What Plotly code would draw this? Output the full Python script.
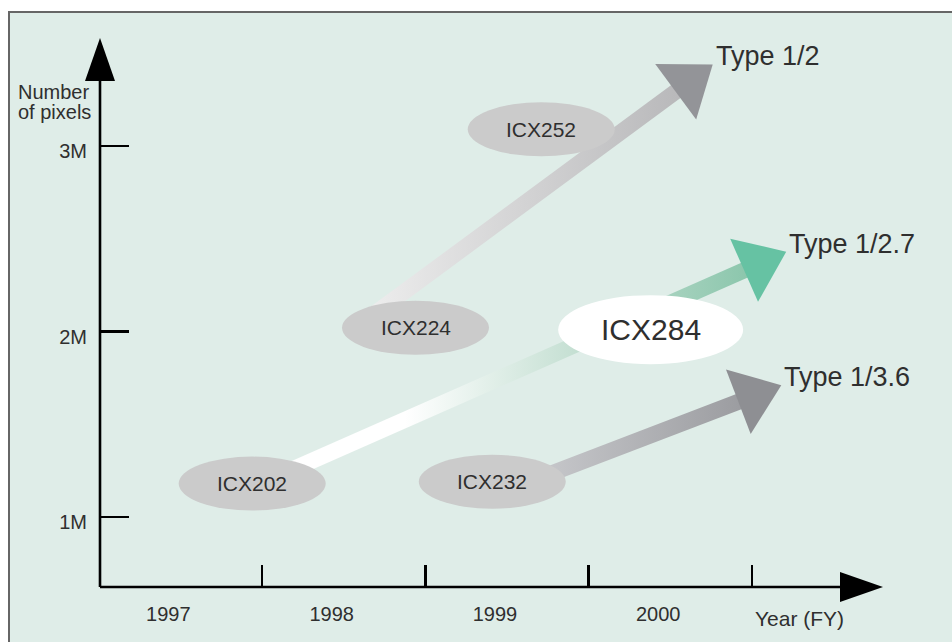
import numpy as np
import plotly.graph_objects as go

PAGE = 0                      # body margin removed by post_script below
W, H = 952, 642

# ---------------- data ----------------
years = [1997, 1998, 1999, 2000]
year_labels = ["1997", "1998", "1999", "2000"]
year_bounds = [1997.5, 1998.5, 1999.5, 2000.5]
pixel_ticks = [1, 2, 3]
pixel_labels = ["1M", "2M", "3M"]

chip_names = ["ICX202", "ICX232", "ICX224", "ICX252", "ICX284"]
chip_year = [1997.44, 1998.91, 1998.44, 1999.21, 1999.88]
chip_mpix = [1.18, 1.19, 2.02, 3.09, 2.01]

trend_names = ["Type 1/2", "Type 1/2.7", "Type 1/3.6"]
trend_from_year = [1998.15, 1997.49, 1998.96]
trend_from_mpix = [2.07, 1.18, 1.13]
trend_to_year = [2000.26, 2000.71, 2000.68]
trend_to_mpix = [3.44, 2.43, 1.71]

# ---------------- scales / styles ----------------
SX, SY = 163.3, 185.5            # px per year, px per megapixel
X0 = 1997.5 - (262 - PAGE) / SX
X1 = X0 + W / SX
Y1 = 1 + (517 - PAGE) / SY
Y0 = Y1 - H / SY

FONT = "Liberation Sans, Arial, sans-serif"
TXT = "#2f2f2f"
BG = "#dfede8"


def to_px(x, y):
    """data -> page pixel"""
    return np.array([(x - X0) * SX + PAGE, (Y1 - y) * SY + PAGE])


def from_px(p):
    """page pixel -> data"""
    return X0 + (p[0] - PAGE) / SX, Y1 - (p[1] - PAGE) / SY


def px_paper(px, py):
    return (px - PAGE) / W, 1 - (py - PAGE) / H


def poly(points):
    xs, ys = zip(*[from_px(p) for p in points])
    return list(xs), list(ys)


shaft_scales = [
    [[0, "#eeeeee"], [1, "#b8b8ba"]],
    [[0, "#ffffff"], [0.3, "#ffffff"], [0.65, "#c4dfd2"], [1, "#8bc6ac"]],
    [[0, "#d0d1d4"], [1, "#9b9ca0"]],
]
head_colors = ["#939498", "#66c2a3", "#8e8f93"]
SHAFT_W, HEAD_L, HEAD_HW = 16, 46, 34.5

fig = go.Figure()

for i in range(len(trend_names)):
    p0 = to_px(trend_from_year[i], trend_from_mpix[i])
    p1 = to_px(trend_to_year[i], trend_to_mpix[i])
    d = p1 - p0
    u = d / np.linalg.norm(d)
    n = np.array([-u[1], u[0]])
    base = p1 - HEAD_L * u
    se = base + 3 * u
    sx, sy = poly([p0 + n * SHAFT_W / 2, se + n * SHAFT_W / 2,
                   se - n * SHAFT_W / 2, p0 - n * SHAFT_W / 2,
                   p0 + n * SHAFT_W / 2])
    fig.add_trace(go.Scatter(
        x=sx, y=sy, mode="lines", line=dict(width=0), fill="toself",
        fillgradient=dict(type="horizontal", colorscale=shaft_scales[i]),
        hoverinfo="skip"))
    hx, hy = poly([p1, base + n * HEAD_HW, base - n * HEAD_HW, p1])
    fig.add_trace(go.Scatter(
        x=hx, y=hy, mode="lines", line=dict(width=0), fill="toself",
        fillcolor=head_colors[i], hoverinfo="skip"))
    fig.add_annotation(
        x=trend_to_year[i], y=trend_to_mpix[i], text=trend_names[i],
        showarrow=False, xanchor="left", yanchor="middle",
        xshift=1, yshift=8, font=dict(family=FONT, size=27, color=TXT))

# dummy trace for the label axis
fig.add_trace(go.Scatter(x=[years[0]], y=[1], xaxis="x2", mode="markers",
                         marker=dict(opacity=0), hoverinfo="skip"))

bx, by = px_paper(9, 12)
shapes = [dict(type="rect", xref="paper", yref="paper",
               x0=bx, x1=1.02, y0=-0.02, y1=by,
               fillcolor=BG, line=dict(color="#666666", width=2),
               layer="below")]

# chips (ellipses)
for i, name in enumerate(chip_names):
    big = name == "ICX284"
    rx, ry = (92.5, 34.5) if big else (73.5, 27)
    fill = "#ffffff" if big else "#cbcbcb"
    shapes.append(dict(type="circle", xref="x", yref="y",
                       x0=chip_year[i] - rx / SX, x1=chip_year[i] + rx / SX,
                       y0=chip_mpix[i] - ry / SY, y1=chip_mpix[i] + ry / SY,
                       fillcolor=fill, line=dict(width=0)))
    fig.add_annotation(x=chip_year[i], y=chip_mpix[i], text=name,
                       showarrow=False,
                       font=dict(family=FONT, size=30 if big else 21, color=TXT))

# axes lines with arrowheads
ox, oy = from_px((100, 587))
_, yy_top = from_px((100, 80))
xx_end, _ = from_px((842, 587))
shapes.append(dict(type="line", xref="x", yref="y", x0=ox, y0=oy, x1=ox, y1=yy_top,
                   line=dict(color="black", width=2.6)))
shapes.append(dict(type="line", xref="x", yref="y", x0=ox, y0=oy, x1=xx_end, y1=oy,
                   line=dict(color="black", width=2.6)))


def path(points):
    pts = [from_px(p) for p in points]
    return "M " + " L ".join(f"{a},{b}" for a, b in pts) + " Z"


shapes.append(dict(type="path", xref="x", yref="y",
                   path=path([(85, 81), (115, 81), (100, 38)]),
                   fillcolor="black", line=dict(width=0)))
shapes.append(dict(type="path", xref="x", yref="y",
                   path=path([(840, 572), (840, 602), (883, 587)]),
                   fillcolor="black", line=dict(width=0)))

for txt, (px, py), anc, sz in [("Number", (16, 92), "left", 20),
                               ("of pixels", (16, 112), "left", 20),
                               ("Year (FY)", (799, 618), "center", 21)]:
    ax_, ay_ = px_paper(px, py)
    fig.add_annotation(xref="paper", yref="paper", x=ax_, y=ay_, text=txt,
                       showarrow=False, xanchor=anc, yanchor="middle",
                       font=dict(family=FONT, size=sz, color=TXT))

axis_pos = px_paper(0, 587)[1]
fig.update_layout(
    width=W, height=H, margin=dict(l=0, r=0, t=0, b=0),
    paper_bgcolor="white", plot_bgcolor="rgba(0,0,0,0)", showlegend=False,
    shapes=shapes,
    xaxis=dict(range=[X0, X1], anchor="free", position=axis_pos,
               tickvals=year_bounds, ticks="inside", ticklen=22, tickwidth=2.6,
               tickcolor="black", showticklabels=False, showgrid=False,
               zeroline=False, showline=False, fixedrange=True),
    xaxis2=dict(range=[X0, X1], overlaying="x", anchor="free", position=axis_pos,
                tickvals=years, ticktext=year_labels, ticks="", showgrid=False,
                zeroline=False, showline=False, ticklabelshift=-12,
                ticklabelstandoff=13, tickfont=dict(family=FONT, size=20, color=TXT),
                fixedrange=True),
    yaxis=dict(range=[Y0, Y1], anchor="free", position=px_paper(100, 0)[0],
               tickvals=pixel_ticks, ticktext=pixel_labels, ticks="inside",
               ticklen=28, tickwidth=2.6, tickcolor="black", ticklabelstandoff=13,
               ticklabelshift=5, showgrid=False, zeroline=False, showline=False,
               tickfont=dict(family=FONT, size=20, color=TXT), fixedrange=True),
)

fig.write_html(
    "out.html",
    config={"displayModeBar": False, "staticPlot": True},
    post_script="document.body.style.margin='0';"
                "document.documentElement.style.overflow='hidden';",
)
